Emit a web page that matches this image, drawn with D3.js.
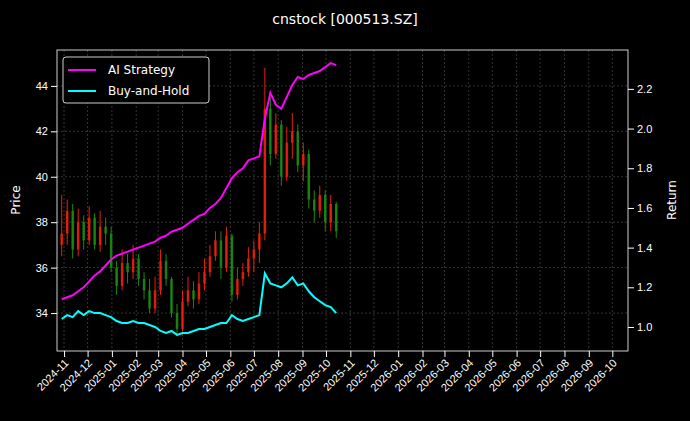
<!DOCTYPE html><html><head><meta charset="utf-8">
<script src="https://cdn.jsdelivr.net/npm/d3@7"></script>
<style>body{margin:0;background:#000}svg{font-family:"DejaVu Sans",sans-serif}</style></head><body>
<script>
const startWeek = "2024-10-29";
const closeP=[37.5,38.5,36.8,38.0,37.2,38.2,37.0,37.8,37.5,36.0,35.2,36.2,35.8,36.4,35.5,35.0,34.2,35.0,36.3,35.5,34.0,33.3,34.5,35.0,34.6,35.3,35.8,36.5,37.2,36.0,37.4,34.8,35.5,35.8,36.4,36.8,37.5,43.0,41.0,42.3,40.0,41.5,42.0,40.5,41.0,39.0,38.5,39.2,38.0,38.8,37.6];
const openP=[37.0,37.5,38.5,36.8,38.0,37.2,38.2,37.0,37.8,37.5,36.0,35.2,36.2,35.8,36.4,35.5,35.0,34.2,35.0,36.3,35.5,34.0,33.3,34.5,35.0,34.6,35.3,35.8,36.5,37.2,36.0,37.4,34.8,35.5,35.8,36.4,36.8,37.5,43.0,41.0,42.3,40.0,41.5,42.0,40.5,41.0,39.0,38.5,39.2,38.0,38.8];
const highP=[39.2,39.0,38.8,38.6,38.3,38.7,38.4,38.5,38.2,37.8,36.3,36.8,36.6,37.0,36.6,35.8,35.5,35.6,36.8,36.6,35.6,34.4,35.0,35.6,35.4,35.8,36.4,37.0,37.6,37.6,37.8,37.5,36.0,36.2,36.9,37.2,38.0,44.8,43.5,42.8,42.5,42.2,42.8,42.3,41.5,41.2,39.4,39.6,39.4,39.2,38.9];
const lowP=[36.5,37.0,36.4,36.5,36.8,37.0,36.8,36.7,37.0,35.8,34.8,35.0,35.3,35.5,35.2,34.6,34.0,34.0,34.8,35.2,33.8,33.0,33.2,34.3,34.2,34.4,35.0,35.6,36.3,35.5,35.8,34.5,34.6,35.2,35.6,35.8,36.2,37.2,40.5,40.8,39.6,39.8,40.8,40.2,39.8,38.6,38.0,38.2,37.6,37.6,37.3];
const aiReturn=[1.14,1.15,1.16,1.18,1.20,1.23,1.26,1.28,1.31,1.34,1.36,1.37,1.38,1.39,1.40,1.41,1.42,1.43,1.45,1.46,1.48,1.49,1.50,1.52,1.54,1.56,1.57,1.60,1.62,1.65,1.70,1.75,1.78,1.80,1.84,1.85,1.86,2.05,2.18,2.12,2.10,2.16,2.22,2.26,2.25,2.27,2.28,2.29,2.31,2.33,2.32];
const bhReturn=[1.04,1.06,1.05,1.08,1.06,1.08,1.07,1.07,1.06,1.05,1.03,1.02,1.02,1.03,1.02,1.02,1.01,1.00,0.98,0.97,0.98,0.96,0.97,0.97,0.98,0.99,0.99,1.00,1.01,1.02,1.02,1.06,1.04,1.03,1.04,1.05,1.06,1.27,1.22,1.21,1.20,1.22,1.25,1.21,1.22,1.18,1.15,1.13,1.11,1.10,1.07];
const priceTicks=[34,36,38,40,42,44];
const returnTicks=[1.0,1.2,1.4,1.6,1.8,2.0,2.2];

const W=690,H=421,m={l:57,r:62,t:50,b:70};
const svg=d3.select("body").append("svg").attr("width",W).attr("height",H).style("background","#000");
const dates=closeP.map((_,i)=>d3.timeWeek.offset(new Date(startWeek+"T00:00:00"),i));
const x=d3.scaleTime().domain([new Date("2024-10-23"),new Date("2026-10-21")]).range([m.l,W-m.r]);
const y=d3.scaleLinear().domain([32.33,45.58]).range([H-m.b,m.t]);
const y2=d3.scaleLinear().domain([0.879,2.396]).range([H-m.b,m.t]);
const months=d3.timeMonth.range(new Date("2024-11-01"),new Date("2026-10-02"));
const g=svg.append("g");
g.selectAll(".gx").data(months).join("line").attr("x1",d=>x(d)).attr("x2",d=>x(d)).attr("y1",m.t).attr("y2",H-m.b)
 .attr("stroke","#555").attr("stroke-width",0.6).attr("stroke-dasharray","2,2");
g.selectAll(".gy").data(priceTicks).join("line").attr("x1",m.l).attr("x2",W-m.r).attr("y1",d=>y(d)).attr("y2",d=>y(d))
 .attr("stroke","#555").attr("stroke-width",0.6).attr("stroke-dasharray","2,2");
const idx=d3.range(closeP.length);
const col=i=>closeP[i]>=openP[i]?"#e8200c":"#1a8a10";
g.selectAll(".wick").data(idx).join("line").attr("x1",i=>x(dates[i])).attr("x2",i=>x(dates[i]))
 .attr("y1",i=>y(highP[i])).attr("y2",i=>y(lowP[i])).attr("stroke",col).attr("stroke-width",1);
g.selectAll(".body").data(idx).join("rect").attr("x",i=>x(dates[i])-1.25).attr("width",2.5)
 .attr("y",i=>y(Math.max(openP[i],closeP[i]))).attr("height",i=>Math.max(1,Math.abs(y(openP[i])-y(closeP[i]))))
 .attr("fill",col).attr("opacity",0.9);
const ln=a=>d3.line().x((d,i)=>x(dates[i])).y(d=>y2(d))(a);
g.append("path").attr("d",ln(aiReturn)).attr("fill","none").attr("stroke","#ff00ff").attr("stroke-width",2);
g.append("path").attr("d",ln(bhReturn)).attr("fill","none").attr("stroke","#00ffff").attr("stroke-width",2);
const ax=svg.append("g").attr("transform",`translate(0,${H-m.b})`).call(d3.axisBottom(x).tickValues(months).tickFormat(d3.timeFormat("%Y-%m")).tickSizeOuter(0));
ax.selectAll("text").attr("transform","rotate(-45)").attr("text-anchor","end").attr("dx","-0.5em").attr("dy","0.3em").style("font-size","11px");
const ay=svg.append("g").attr("transform",`translate(${m.l},0)`).call(d3.axisLeft(y).tickValues(priceTicks).tickSizeOuter(0));
const ay2=svg.append("g").attr("transform",`translate(${W-m.r},0)`).call(d3.axisRight(y2).tickValues(returnTicks).tickFormat(d3.format(".1f")).tickSizeOuter(0));
[ax,ay,ay2].forEach(a=>{a.select(".domain").remove();a.selectAll("line").attr("stroke","#fff");a.selectAll("text").attr("fill","#fff").style("font-size","11px");});
svg.append("rect").attr("x",m.l).attr("y",m.t).attr("width",W-m.l-m.r).attr("height",H-m.t-m.b).attr("fill","none").attr("stroke","#fff").attr("stroke-width",0.8);
svg.append("text").attr("x",345).attr("y",24).attr("text-anchor","middle").attr("fill","#fff").style("font-size","14px").text("cnstock [000513.SZ]");
svg.append("text").attr("transform","translate(20,200) rotate(-90)").attr("text-anchor","middle").attr("fill","#fff").style("font-size","12px").text("Price");
svg.append("text").attr("transform","translate(676,200) rotate(-90)").attr("text-anchor","middle").attr("fill","#fff").style("font-size","12px").text("Return");
const lg=svg.append("g");
lg.append("rect").attr("x",63).attr("y",57).attr("width",146).attr("height",46).attr("rx",3).attr("fill","#000").attr("stroke","#ccc");
[["AI Strategy","#ff00ff"],["Buy-and-Hold","#00ffff"]].forEach((d,i)=>{
 lg.append("line").attr("x1",68).attr("x2",96).attr("y1",70+i*21).attr("y2",70+i*21).attr("stroke",d[1]).attr("stroke-width",2);
 lg.append("text").attr("x",108).attr("y",74+i*21).attr("fill","#fff").style("font-size","12px").text(d[0]);
});
</script></body></html>
